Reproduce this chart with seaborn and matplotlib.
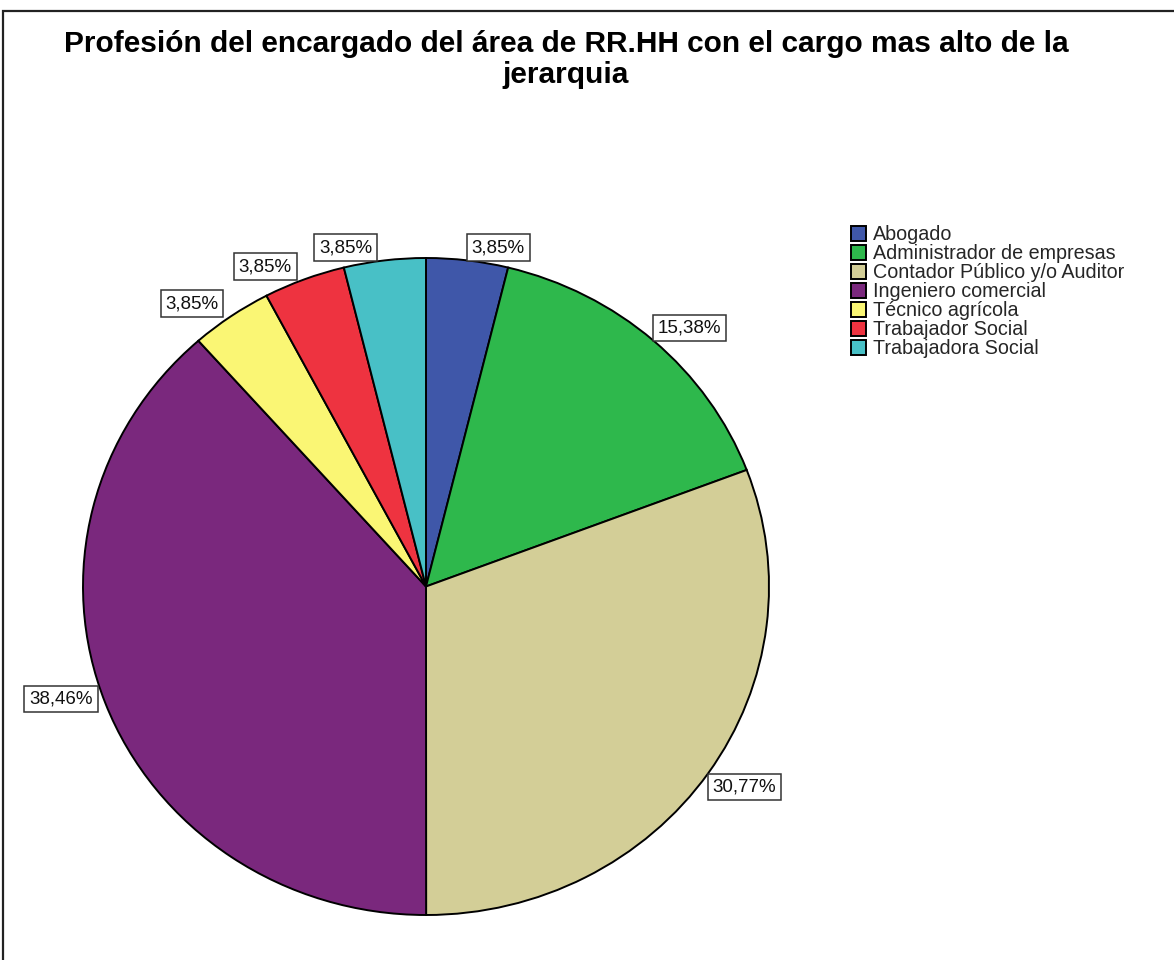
import matplotlib
matplotlib.use("Agg")
import matplotlib.pyplot as plt
from matplotlib.patches import Rectangle
import numpy as np
import seaborn as sns

# Datos del gráfico
categorias = [
    "Abogado",
    "Administrador de empresas",
    "Contador Público y/o Auditor",
    "Ingeniero comercial",
    "Técnico agrícola",
    "Trabajador Social",
    "Trabajadora Social",
]
porcentajes = [3.85, 15.38, 30.77, 38.46, 3.85, 3.85, 3.85]
colores = ["#3F57A9", "#2EB84C", "#D3CE97", "#7A287D", "#FAF674", "#EE3340", "#48C0C6"]
titulo = "Profesión del encargado del área de RR.HH con el cargo mas alto de la\njerarquia"

sns.set_theme(style="white")
plt.rcParams["font.family"] = ["Liberation Sans", "DejaVu Sans"]

W, H = 1174, 960
fig = plt.figure(figsize=(W / 100, H / 100), dpi=100)
fig.patch.set_facecolor("white")

# Marco exterior
fig.add_artist(Rectangle((3 / W, -0.1), 1.2, (H - 11) / H + 0.1,
                         transform=fig.transFigure, fill=False,
                         edgecolor="#222222", linewidth=1.6))

ax = fig.add_axes([83 / W, 1 - 915 / H, 686 / W, 657 / H])
wedges, _ = ax.pie(porcentajes, colors=colores, startangle=90, counterclock=False,
                   wedgeprops=dict(edgecolor="black", linewidth=1.4))
ax.set_aspect("auto")
ax.set_xlim(-1, 1)
ax.set_ylim(-1, 1)
ax.axis("off")

# Etiquetas de porcentaje en el borde de cada sector
for w, p in zip(wedges, porcentajes):
    ang = np.deg2rad((w.theta1 + w.theta2) / 2)
    x, y = np.cos(ang), np.sin(ang)
    ha = "left" if x > 0.05 else "right"
    if y > 0.4:
        va = "bottom"
    elif y < -0.4:
        va = "top"
    else:
        va = "center"
    dx = 3 if ha == "left" else -9
    dy = {"bottom": 3, "top": -4, "center": 3}[va]
    ax.annotate(f"{p:.2f}%".replace(".", ","), xy=(x, y), xytext=(dx, dy),
                textcoords="offset points", ha=ha, va=va, fontsize=13.5,
                color="#111111",
                bbox=dict(boxstyle="square,pad=0.26", facecolor="white",
                          edgecolor="#333333", linewidth=1.1))

fig.text(566 / W, 1 - 30 / H, titulo, ha="center", va="top", fontsize=21.5,
         fontweight="bold", color="black", linespacing=1.12)

fig.legend(wedges, categorias, loc="upper left", bbox_to_anchor=(851 / W, 1 - 225 / H),
           frameon=False, fontsize=14.2, handlelength=0.78, handleheight=0.78,
           handletextpad=0.35, labelspacing=0.0, borderpad=0, borderaxespad=0)

fig.savefig("out.png", dpi=100, facecolor="white")
